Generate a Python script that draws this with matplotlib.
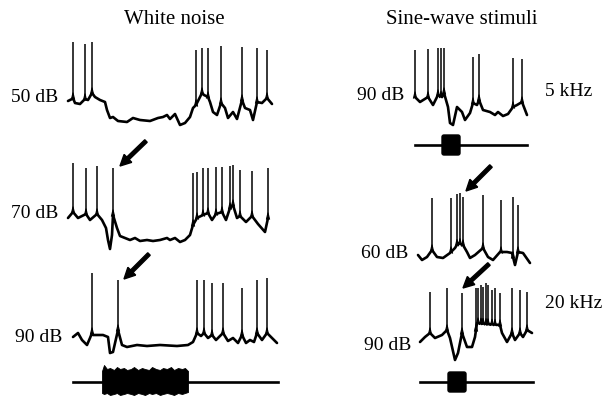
import numpy as np
import matplotlib
matplotlib.use("Agg")
import matplotlib.pyplot as plt
from matplotlib.patches import FancyBboxPatch

# Everything is in image pixel units (x right, y down).

# ---- White noise column ----
wn50_bx = [68, 72, 73, 75, 80, 84, 85, 88, 92, 95, 100, 105, 107, 110, 113, 118, 127, 133, 140, 150,
           158, 163, 167, 170, 175, 180, 185, 190, 193, 196, 202, 204, 208, 210, 213, 217, 221, 225,
           228, 233, 237, 242, 245, 250, 253, 257, 262, 267, 272]
wn50_by = [101, 99, 98, 103, 104, 100, 99, 100, 93, 97, 100, 102, 110, 118, 117, 121, 122, 118, 120, 121,
           118, 117, 115, 119, 114, 125, 123, 117, 108, 105, 93, 95, 97, 102, 112, 115, 103, 108,
           118, 112, 119, 100, 108, 110, 120, 102, 103, 98, 104]
wn50_sx = [73, 85, 92, 196, 202, 208, 221, 242, 257, 267]
wn50_top = [42, 44, 42, 50, 48, 48, 46, 47, 48, 50]

wn70_bx = [68, 73, 78, 86, 90, 97, 102, 106, 108, 110, 112, 113, 117, 120, 125, 130, 135, 140, 147,
           153, 160, 167, 170, 175, 180, 185, 190, 193, 197, 203, 208, 212, 216, 222, 226, 230, 233,
           237, 240, 246, 252, 258, 265, 268]
wn70_by = [218, 212, 218, 214, 220, 214, 220, 228, 240, 249, 235, 215, 228, 236, 238, 240, 238, 241, 240,
           241, 240, 238, 240, 238, 242, 240, 235, 225, 218, 215, 213, 220, 214, 212, 220, 208, 205,
           218, 216, 222, 216, 224, 232, 218]
wn70_sx = [73, 86, 97, 113, 193, 197, 203, 208, 216, 222, 230, 233, 240, 252, 268]
wn70_top = [163, 168, 166, 168, 173, 172, 168, 168, 167, 167, 166, 165, 170, 171, 168]

wn90_bx = [73, 78, 82, 87, 90, 92, 93, 103, 108, 110, 113, 118, 122, 127, 137, 147, 160, 177, 188,
           193, 197, 201, 204, 208, 212, 216, 223, 228, 233, 238, 242, 246, 250, 254, 257, 262, 267,
           272, 277]
wn90_by = [337, 333, 340, 345, 338, 333, 335, 335, 337, 353, 352, 330, 345, 347, 345, 346, 345, 346, 345,
           342, 333, 336, 333, 338, 335, 340, 333, 341, 338, 343, 335, 343, 340, 342, 333, 340, 333,
           338, 343]
wn90_sx = [92, 118, 197, 204, 212, 223, 242, 257, 267]
wn90_top = [273, 280, 280, 280, 283, 283, 288, 280, 278]

noise_line = (73, 278, 382)
noise_x = [102, 104, 107, 110, 114, 117, 120, 124, 127, 131, 134, 138, 142, 145, 149, 152, 156, 160,
           163, 167, 171, 174, 178, 182, 185, 188]
noise_top = [371, 365, 369, 368, 370, 367, 369, 368, 370, 369, 367, 370, 368, 369, 370, 367, 369, 370,
             368, 369, 367, 370, 368, 369, 368, 371]
noise_bot = [393, 394, 393, 395, 394, 393, 395, 394, 393, 394, 395, 393, 394, 395, 393, 394, 393, 395,
             394, 393, 394, 395, 393, 394, 393, 392]

# ---- Sine-wave column ----
sw5_bx = [415, 420, 428, 433, 438, 442, 444, 448, 450, 453, 457, 462, 465, 470, 473, 477, 479, 483,
          490, 495, 498, 503, 508, 513, 517, 522, 527]
sw5_by = [97, 102, 97, 105, 95, 97, 93, 107, 123, 125, 107, 112, 120, 113, 103, 105, 100, 110,
          112, 115, 112, 116, 114, 107, 105, 102, 115]
sw5_sx = [415, 428, 438, 441, 444, 473, 479, 513, 522]
sw5_top = [50, 49, 48, 48, 48, 57, 54, 58, 59]

sw60_bx = [418, 422, 427, 432, 437, 443, 450, 455, 458, 463, 467, 470, 475, 483, 488, 493, 500, 507,
           512, 515, 518, 523, 530]
sw60_by = [255, 260, 257, 250, 257, 258, 253, 248, 243, 245, 252, 258, 255, 248, 257, 260, 252, 252,
           253, 265, 252, 253, 263]
sw60_sx = [432, 451, 457, 460, 463, 483, 501, 513, 518]
sw60_top = [198, 198, 194, 193, 197, 195, 200, 197, 205]

sw20_bx = [420, 425, 430, 435, 442, 447, 450, 455, 458, 462, 467, 472, 475, 477, 500, 502, 507, 512,
           515, 520, 523, 527, 532]
sw20_by = [342, 337, 333, 338, 335, 330, 338, 360, 353, 333, 347, 347, 337, 323, 325, 333, 342, 333,
           340, 333, 337, 330, 333]
sw20_sx = [430, 447, 462, 476, 478, 481, 483, 486, 488, 492, 495, 500, 512, 520, 527]
sw20_top = [292, 288, 293, 288, 288, 285, 287, 283, 285, 290, 288, 293, 288, 290, 292]

# tone markers: line x0, x1, y ; block x0, x1, half height
tone5 = (415, 527, 145, 442, 460, 10)
tone20 = (420, 533, 382, 448, 466, 10)

# arrows: tail x, tail y, tip x, tip y
arrows = [(146, 141, 120, 166), (149, 254, 124, 279), (491, 166, 466, 191), (489, 264, 463, 288)]

labels = [("50 dB", 58, 97), ("70 dB", 58, 214), ("90 dB", 62, 338),
          ("90 dB", 404, 96), ("60 dB", 408, 253), ("90 dB", 411, 346)]
freq_labels = [("5 kHz", 545, 91), ("20 kHz", 545, 304)]
titles = [("White noise", 174, 19), ("Sine-wave stimuli", 462, 19)]


def draw_trace(ax, bx, by, sx, top):
    ax.plot(bx, by, color="black", lw=1.9, solid_joinstyle="round", solid_capstyle="round")
    foot = np.interp(sx, bx, by)
    ax.vlines(sx, top, foot, color="black", lw=1.1)
    # spikes widen a little where they leave the trace
    for x, f in zip(sx, foot):
        ax.plot([x - 1.4, x, x + 1.4], [f + 1, f - 5, f + 1], color="black", lw=0.9)


def draw_tone(ax, tone):
    x0, x1, y, b0, b1, h = tone
    ax.plot([x0, x1], [y, y], color="black", lw=1.9)
    ax.add_patch(FancyBboxPatch((b0 + 2, y - h + 2), b1 - b0 - 4, 2 * h - 4,
                                boxstyle="round,pad=2", fc="black", ec="black"))


fig = plt.figure(figsize=(6.09, 3.97), dpi=100)
ax = fig.add_axes([0, 0, 1, 1])
ax.set_xlim(0, 609)
ax.set_ylim(397, 0)
ax.axis("off")

draw_trace(ax, wn50_bx, wn50_by, wn50_sx, wn50_top)
draw_trace(ax, wn70_bx, wn70_by, wn70_sx, wn70_top)
draw_trace(ax, wn90_bx, wn90_by, wn90_sx, wn90_top)
draw_trace(ax, sw5_bx, sw5_by, sw5_sx, sw5_top)
draw_trace(ax, sw60_bx, sw60_by, sw60_sx, sw60_top)
draw_trace(ax, sw20_bx, sw20_by, sw20_sx, sw20_top)

# white noise stimulus
x0, x1, y = noise_line
ax.plot([x0, x1], [y, y], color="black", lw=1.9)
ax.fill_between(noise_x, noise_top, noise_bot, color="black", lw=0.6)

draw_tone(ax, tone5)
draw_tone(ax, tone20)

for tx, ty, hx, hy in arrows:
    ax.arrow(tx, ty, hx - tx, hy - ty, width=3.5, head_width=11, head_length=11,
             length_includes_head=True, fc="black", ec="black")

serif = "Liberation Serif"
for s, x, y in labels:
    ax.text(x, y, s, ha="right", va="center", fontsize=14, family=serif)
for s, x, y in freq_labels:
    ax.text(x, y, s, ha="left", va="center", fontsize=14, family=serif)
for s, x, y in titles:
    ax.text(x, y, s, ha="center", va="center", fontsize=15, family=serif)

fig.savefig("out.png", dpi=100)
